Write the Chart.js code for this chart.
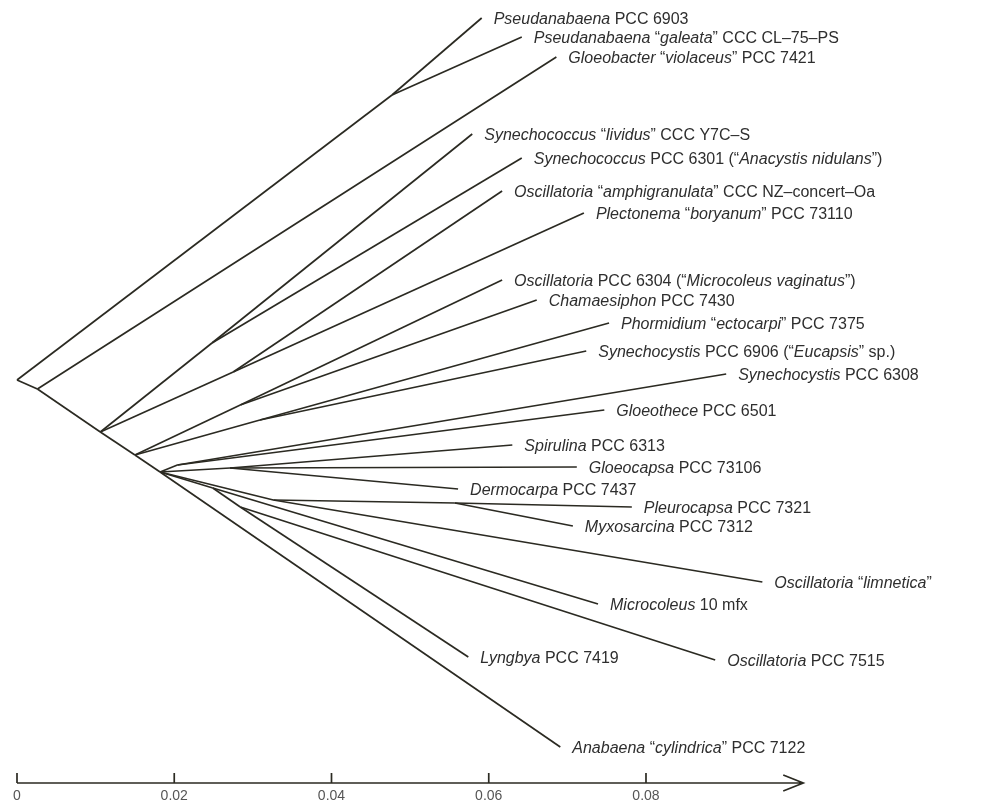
<!DOCTYPE html>
<html>
<head>
<meta charset="utf-8">
<script src="https://cdn.jsdelivr.net/npm/chart.js@4.4.1/dist/chart.umd.min.js"></script>
<style>
  html, body { margin: 0; padding: 0; background: #fff; }
  #wrap { width: 984px; height: 803px; position: relative; }
</style>
</head>
<body>
<div id="wrap"><canvas id="tree"></canvas></div>
<script>
// leaves: name (*italic*), distance from root, vertical row position, parent node
const leafNames = [
  '*Pseudanabaena* PCC 6903',
  '*Pseudanabaena* “*galeata*” CCC CL–75–PS',
  '*Gloeobacter* “*violaceus*” PCC 7421',
  '*Synechococcus* “*lividus*” CCC Y7C–S',
  '*Synechococcus* PCC 6301 (“*Anacystis nidulans*”)',
  '*Oscillatoria* “*amphigranulata*” CCC NZ–concert–Oa',
  '*Plectonema* “*boryanum*” PCC 73110',
  '*Oscillatoria* PCC 6304 (“*Microcoleus vaginatus*”)',
  '*Chamaesiphon* PCC 7430',
  '*Phormidium* “*ectocarpi*” PCC 7375',
  '*Synechocystis* PCC 6906 (“*Eucapsis*” sp.)',
  '*Synechocystis* PCC 6308',
  '*Gloeothece* PCC 6501',
  '*Spirulina* PCC 6313',
  '*Gloeocapsa* PCC 73106',
  '*Dermocarpa* PCC 7437',
  '*Pleurocapsa* PCC 7321',
  '*Myxosarcina* PCC 7312',
  '*Oscillatoria* “*limnetica*”',
  '*Microcoleus* 10 mfx',
  '*Oscillatoria* PCC 7515',
  '*Lyngbya* PCC 7419',
  '*Anabaena* “*cylindrica*” PCC 7122'
];
const leafDist = [0.0591, 0.0642, 0.0686, 0.0579, 0.0642, 0.0617, 0.0721, 0.0617, 0.0661, 0.0753,
                  0.0724, 0.0902, 0.0747, 0.0630, 0.0712, 0.0561, 0.0782, 0.0707, 0.0948, 0.0739,
                  0.0888, 0.0574, 0.0691];
const leafRow  = [18, 37, 57, 134, 158, 191, 213, 280, 300, 323,
                  351, 374, 410, 445, 467, 489, 507, 526, 582, 604,
                  660, 657, 747];
const leafParent = ['A', 'A', 'B', 'D', 'D', 'E', 'E', 'F1', 'F1', 'F2',
                    'F2', 'G1', 'G1', 'J', 'J', 'J', 'P', 'P', 'M', 'H',
                    'I', 'I', 'G'];

// internal nodes
const nodeNames  = ['R', 'A', 'B', 'C', 'D', 'E', 'F', 'F1', 'F2', 'G', 'G1', 'J', 'M', 'P', 'H', 'I'];
const nodeDist   = [0, 0.0477, 0.0026, 0.0106, 0.0248, 0.0275, 0.0150, 0.0284, 0.0309, 0.0182, 0.0204, 0.0271, 0.0326, 0.0557, 0.0249, 0.0284];
const nodeRow    = [380, 95, 389, 432, 343, 372, 455, 405, 420, 472, 465, 468, 500, 503, 488, 507];
const nodeParent = [null, 'R', 'R', 'B', 'C', 'C', 'C', 'F', 'F', 'F', 'G', 'G', 'G', 'M', 'G', 'H'];

// scale bar
const tickValues = [0, 0.02, 0.04, 0.06, 0.08];
const tickLabels = ['0', '0.02', '0.04', '0.06', '0.08'];
const axisEnd = 0.1;
const axisRow = 783;

const ink = '#2b2a22';

const pos = {};
nodeNames.forEach((n, i) => { pos[n] = { x: nodeDist[i], y: nodeRow[i] }; });

const edges = [];
nodeNames.forEach((n, i) => {
  if (nodeParent[i]) edges.push([pos[nodeParent[i]], pos[n]]);
});
leafNames.forEach((n, i) => {
  edges.push([pos[leafParent[i]], { x: leafDist[i], y: leafRow[i] }]);
});

const datasets = edges.map(e => ({
  data: [e[0], e[1]],
  showLine: true,
  borderColor: ink,
  borderWidth: 1.7,
  pointRadius: 0,
  pointHoverRadius: 0
}));

const labelPlugin = {
  id: 'treeLabels',
  afterDatasetsDraw(chart) {
    const ctx = chart.ctx;
    const xs = chart.scales.x, ys = chart.scales.y;
    ctx.save();
    ctx.fillStyle = '#2e2e2e';
    ctx.textBaseline = 'middle';
    leafNames.forEach((name, i) => {
      let px = xs.getPixelForValue(leafDist[i]) + 12;
      const py = ys.getPixelForValue(leafRow[i]) + 2;
      name.split('*').forEach((part, k) => {
        if (!part) return;
        ctx.font = (k % 2 ? 'italic ' : '') + '16px "Liberation Sans", Arial, sans-serif';
        ctx.fillText(part, px, py);
        px += ctx.measureText(part).width;
      });
    });

    // scale bar with arrow
    const y0 = ys.getPixelForValue(axisRow);
    const xa = xs.getPixelForValue(0), xb = xs.getPixelForValue(axisEnd);
    ctx.strokeStyle = ink;
    ctx.lineWidth = 1.7;
    ctx.beginPath();
    ctx.moveTo(xa, y0); ctx.lineTo(xb, y0);
    ctx.moveTo(xb - 20, y0 - 8); ctx.lineTo(xb, y0); ctx.lineTo(xb - 20, y0 + 8);
    tickValues.forEach(v => {
      const tx = xs.getPixelForValue(v);
      ctx.moveTo(tx, y0); ctx.lineTo(tx, y0 - 10);
    });
    ctx.stroke();
    ctx.font = '14px "Liberation Sans", Arial, sans-serif';
    ctx.fillStyle = '#555';
    ctx.textAlign = 'center';
    ctx.textBaseline = 'top';
    tickValues.forEach((v, i) => {
      ctx.fillText(tickLabels[i], xs.getPixelForValue(v), y0 + 6);
    });
    ctx.restore();
  }
};

new Chart(document.getElementById('tree'), {
  type: 'scatter',
  data: { datasets },
  options: {
    responsive: true,
    maintainAspectRatio: false,
    animation: false,
    layout: { padding: 0 },
    plugins: { legend: { display: false }, tooltip: { enabled: false } },
    scales: {
      x: { type: 'linear', display: false, min: -0.002162, max: 0.12299 },
      y: { type: 'linear', display: false, min: 0, max: 803, reverse: true }
    }
  },
  plugins: [labelPlugin]
});
</script>
</body>
</html>
